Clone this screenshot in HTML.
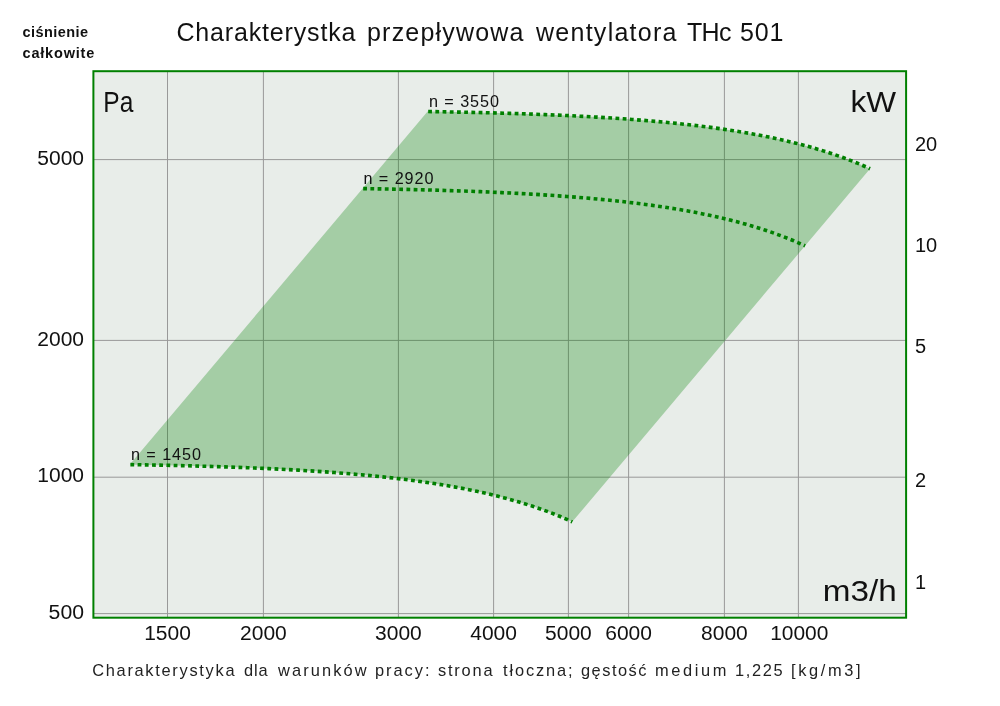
<!DOCTYPE html>
<html><head><meta charset="utf-8"><style>
html,body{margin:0;padding:0;background:#fff;width:1000px;height:706px;overflow:hidden}
svg{display:block;will-change:transform}
text{font-family:"Liberation Sans",sans-serif}
</style></head><body>
<svg width="1000" height="706" viewBox="0 0 1000 706" fill="#111">
<rect x="93.4" y="71.2" width="812.7" height="546.5" fill="#e8ede9"/>
<line x1="167.5" y1="71.2" x2="167.5" y2="617.7" stroke="#999999" stroke-width="1"/>
<line x1="263.4" y1="71.2" x2="263.4" y2="617.7" stroke="#999999" stroke-width="1"/>
<line x1="398.4" y1="71.2" x2="398.4" y2="617.7" stroke="#999999" stroke-width="1"/>
<line x1="493.6" y1="71.2" x2="493.6" y2="617.7" stroke="#999999" stroke-width="1"/>
<line x1="568.4" y1="71.2" x2="568.4" y2="617.7" stroke="#999999" stroke-width="1"/>
<line x1="628.6" y1="71.2" x2="628.6" y2="617.7" stroke="#999999" stroke-width="1"/>
<line x1="724.4" y1="71.2" x2="724.4" y2="617.7" stroke="#999999" stroke-width="1"/>
<line x1="798.4" y1="71.2" x2="798.4" y2="617.7" stroke="#999999" stroke-width="1"/>
<line x1="93.4" y1="159.6" x2="906.1" y2="159.6" stroke="#999999" stroke-width="1"/>
<line x1="93.4" y1="340.4" x2="906.1" y2="340.4" stroke="#999999" stroke-width="1"/>
<line x1="93.4" y1="477.2" x2="906.1" y2="477.2" stroke="#999999" stroke-width="1"/>
<line x1="93.4" y1="613.6" x2="906.1" y2="613.6" stroke="#999999" stroke-width="1"/>
<path d="M129.80,464.62 L427.55,111.54 L442.88,111.80 L457.53,112.08 L471.57,112.38 L485.04,112.70 L497.98,113.05 L510.44,113.41 L522.45,113.79 L534.04,114.20 L545.24,114.63 L556.07,115.07 L566.56,115.54 L576.73,116.04 L586.60,116.55 L596.19,117.08 L605.51,117.64 L614.57,118.22 L623.39,118.82 L631.98,119.45 L640.36,120.09 L648.53,120.76 L656.51,121.46 L664.30,122.18 L671.91,122.92 L679.35,123.68 L686.63,124.47 L693.75,125.29 L700.72,126.13 L707.55,126.99 L714.24,127.88 L720.80,128.80 L727.23,129.74 L733.55,130.71 L739.74,131.71 L745.82,132.73 L751.79,133.78 L757.66,134.86 L763.42,135.97 L769.08,137.11 L774.66,138.27 L780.13,139.47 L785.52,140.70 L790.83,141.96 L796.05,143.25 L801.19,144.57 L806.25,145.93 L811.24,147.31 L816.15,148.74 L820.99,150.20 L825.76,151.69 L830.47,153.22 L835.10,154.78 L839.68,156.39 L844.19,158.03 L848.64,159.71 L853.04,161.43 L857.37,163.20 L861.65,165.00 L865.88,166.85 L870.05,168.74 L572.30,521.83 L568.13,519.93 L563.90,518.09 L559.62,516.28 L555.29,514.52 L550.89,512.80 L546.44,511.11 L541.93,509.47 L537.35,507.87 L532.72,506.30 L528.01,504.77 L523.24,503.28 L518.40,501.82 L513.49,500.40 L508.50,499.01 L503.44,497.66 L498.30,496.33 L493.08,495.04 L487.77,493.78 L482.38,492.56 L476.90,491.36 L471.33,490.19 L465.67,489.06 L459.90,487.95 L454.04,486.87 L448.07,485.82 L441.99,484.79 L435.80,483.80 L429.48,482.83 L423.05,481.88 L416.49,480.97 L409.80,480.08 L402.97,479.21 L396.00,478.37 L388.88,477.56 L381.60,476.77 L374.16,476.00 L366.55,475.26 L358.76,474.54 L350.78,473.85 L342.61,473.18 L334.23,472.53 L325.64,471.91 L316.82,471.30 L307.76,470.73 L298.44,470.17 L288.85,469.63 L278.98,469.12 L268.81,468.63 L258.32,468.16 L247.49,467.71 L236.29,467.28 L224.70,466.88 L212.69,466.49 L200.23,466.13 L187.29,465.79 L173.82,465.47 L159.78,465.17 L145.13,464.88 L129.80,464.62 Z" fill="rgba(0,128,0,0.29)"/>
<path d="M129.80,464.62 L145.13,464.88 L159.78,465.17 L173.82,465.47 L187.29,465.79 L200.23,466.13 L212.69,466.49 L224.70,466.88 L236.29,467.28 L247.49,467.71 L258.32,468.16 L268.81,468.63 L278.98,469.12 L288.85,469.63 L298.44,470.17 L307.76,470.73 L316.82,471.30 L325.64,471.91 L334.23,472.53 L342.61,473.18 L350.78,473.85 L358.76,474.54 L366.55,475.26 L374.16,476.00 L381.60,476.77 L388.88,477.56 L396.00,478.37 L402.97,479.21 L409.80,480.08 L416.49,480.97 L423.05,481.88 L429.48,482.83 L435.80,483.80 L441.99,484.79 L448.07,485.82 L454.04,486.87 L459.90,487.95 L465.67,489.06 L471.33,490.19 L476.90,491.36 L482.38,492.56 L487.77,493.78 L493.08,495.04 L498.30,496.33 L503.44,497.66 L508.50,499.01 L513.49,500.40 L518.40,501.82 L523.24,503.28 L528.01,504.77 L532.72,506.30 L537.35,507.87 L541.93,509.47 L546.44,511.11 L550.89,512.80 L555.29,514.52 L559.62,516.28 L563.90,518.09 L568.13,519.93 L572.30,521.83" fill="none" stroke="#008000" stroke-width="3.6" stroke-dasharray="3.8 3.41" stroke-dashoffset="-0.6"/>
<path d="M362.58,188.58 L377.91,188.84 L392.57,189.12 L406.60,189.42 L420.07,189.74 L433.01,190.09 L445.47,190.45 L457.48,190.83 L469.07,191.24 L480.27,191.67 L491.10,192.11 L501.60,192.58 L511.77,193.07 L521.64,193.59 L531.22,194.12 L540.54,194.68 L549.60,195.26 L558.42,195.86 L567.02,196.49 L575.40,197.13 L583.57,197.80 L591.54,198.50 L599.33,199.22 L606.94,199.96 L614.38,200.72 L621.66,201.51 L628.78,202.33 L635.76,203.17 L642.58,204.03 L649.28,204.92 L655.84,205.84 L662.27,206.78 L668.58,207.75 L674.77,208.75 L680.85,209.77 L686.82,210.82 L692.69,211.90 L698.45,213.01 L704.12,214.15 L709.69,215.31 L715.17,216.51 L720.56,217.74 L725.86,219.00 L731.08,220.29 L736.22,221.61 L741.29,222.97 L746.27,224.35 L751.18,225.78 L756.02,227.23 L760.80,228.73 L765.50,230.26 L770.14,231.82 L774.71,233.43 L779.22,235.07 L783.68,236.75 L788.07,238.47 L792.41,240.24 L796.69,242.04 L800.91,243.89 L805.08,245.78" fill="none" stroke="#008000" stroke-width="3.6" stroke-dasharray="3.8 3.41" stroke-dashoffset="-0.6"/>
<path d="M427.55,111.54 L442.88,111.80 L457.53,112.08 L471.57,112.38 L485.04,112.70 L497.98,113.05 L510.44,113.41 L522.45,113.79 L534.04,114.20 L545.24,114.63 L556.07,115.07 L566.56,115.54 L576.73,116.04 L586.60,116.55 L596.19,117.08 L605.51,117.64 L614.57,118.22 L623.39,118.82 L631.98,119.45 L640.36,120.09 L648.53,120.76 L656.51,121.46 L664.30,122.18 L671.91,122.92 L679.35,123.68 L686.63,124.47 L693.75,125.29 L700.72,126.13 L707.55,126.99 L714.24,127.88 L720.80,128.80 L727.23,129.74 L733.55,130.71 L739.74,131.71 L745.82,132.73 L751.79,133.78 L757.66,134.86 L763.42,135.97 L769.08,137.11 L774.66,138.27 L780.13,139.47 L785.52,140.70 L790.83,141.96 L796.05,143.25 L801.19,144.57 L806.25,145.93 L811.24,147.31 L816.15,148.74 L820.99,150.20 L825.76,151.69 L830.47,153.22 L835.10,154.78 L839.68,156.39 L844.19,158.03 L848.64,159.71 L853.04,161.43 L857.37,163.20 L861.65,165.00 L865.88,166.85 L870.05,168.74" fill="none" stroke="#008000" stroke-width="3.6" stroke-dasharray="3.8 3.41" stroke-dashoffset="-0.6"/>
<rect x="93.4" y="71.2" width="812.7" height="546.5" fill="none" stroke="#008000" stroke-width="2"/>
<text x="176.40" y="41" font-size="25" textLength="179.10" lengthAdjust="spacing">Charakterystka</text>
<text x="367.00" y="41" font-size="25" textLength="156.50" lengthAdjust="spacing">przepływowa</text>
<text x="536.00" y="41" font-size="25" textLength="140.50" lengthAdjust="spacing">wentylatora</text>
<text x="687.00" y="41" font-size="25" textLength="44.50" lengthAdjust="spacing">THc</text>
<text x="740.00" y="41" font-size="25" textLength="43.50" lengthAdjust="spacing">501</text>
<text x="22.5" y="37" font-size="14.5" textLength="65.5" lengthAdjust="spacing" font-weight="bold">ciśnienie</text>
<text x="22.5" y="57.5" font-size="14.5" textLength="71.8" lengthAdjust="spacing" font-weight="bold">całkowite</text>
<text x="103.3" y="111.75" font-size="30" textLength="30" lengthAdjust="spacingAndGlyphs">Pa</text>
<text x="850.5" y="111.9" font-size="30" textLength="45.6" lengthAdjust="spacingAndGlyphs">kW</text>
<text x="822.8" y="600.9" font-size="30" textLength="74" lengthAdjust="spacingAndGlyphs">m3/h</text>
<text x="84" y="164.8" font-size="20" textLength="46.7" lengthAdjust="spacingAndGlyphs" text-anchor="end">5000</text>
<text x="84" y="345.8" font-size="20" textLength="46.7" lengthAdjust="spacingAndGlyphs" text-anchor="end">2000</text>
<text x="84" y="482.2" font-size="20" textLength="46.7" lengthAdjust="spacingAndGlyphs" text-anchor="end">1000</text>
<text x="84" y="619" font-size="20" textLength="35.4" lengthAdjust="spacingAndGlyphs" text-anchor="end">500</text>
<text x="167.5" y="639.8" font-size="20" textLength="46.7" lengthAdjust="spacingAndGlyphs" text-anchor="middle">1500</text>
<text x="263.4" y="639.8" font-size="20" textLength="46.7" lengthAdjust="spacingAndGlyphs" text-anchor="middle">2000</text>
<text x="398.4" y="639.8" font-size="20" textLength="46.7" lengthAdjust="spacingAndGlyphs" text-anchor="middle">3000</text>
<text x="493.6" y="639.8" font-size="20" textLength="46.7" lengthAdjust="spacingAndGlyphs" text-anchor="middle">4000</text>
<text x="568.4" y="639.8" font-size="20" textLength="46.7" lengthAdjust="spacingAndGlyphs" text-anchor="middle">5000</text>
<text x="628.6" y="639.8" font-size="20" textLength="46.7" lengthAdjust="spacingAndGlyphs" text-anchor="middle">6000</text>
<text x="724.4" y="639.8" font-size="20" textLength="46.7" lengthAdjust="spacingAndGlyphs" text-anchor="middle">8000</text>
<text x="799.3" y="639.8" font-size="20" textLength="58.2" lengthAdjust="spacingAndGlyphs" text-anchor="middle">10000</text>
<text x="915" y="150.5" font-size="20">20</text>
<text x="915" y="252.25" font-size="20">10</text>
<text x="915" y="353.25" font-size="20">5</text>
<text x="915" y="487.25" font-size="20">2</text>
<text x="915" y="588.5" font-size="20">1</text>
<text x="131" y="460.3" font-size="16.2" textLength="70" lengthAdjust="spacing">n = 1450</text>
<text x="363.5" y="184.3" font-size="16.2" textLength="70" lengthAdjust="spacing">n = 2920</text>
<text x="429" y="107.2" font-size="16.2" textLength="70" lengthAdjust="spacing">n = 3550</text>
<text x="92.20" y="675.5" font-size="16.4" textLength="142.30" lengthAdjust="spacing" fill="#222222">Charakterystyka</text>
<text x="244.00" y="675.5" font-size="16.4" textLength="23.50" lengthAdjust="spacing" fill="#222222">dla</text>
<text x="278.00" y="675.5" font-size="16.4" textLength="88.50" lengthAdjust="spacing" fill="#222222">warunków</text>
<text x="375.00" y="675.5" font-size="16.4" textLength="54.50" lengthAdjust="spacing" fill="#222222">pracy:</text>
<text x="438.00" y="675.5" font-size="16.4" textLength="54.50" lengthAdjust="spacing" fill="#222222">strona</text>
<text x="503.00" y="675.5" font-size="16.4" textLength="69.50" lengthAdjust="spacing" fill="#222222">tłoczna;</text>
<text x="581.00" y="675.5" font-size="16.4" textLength="65.50" lengthAdjust="spacing" fill="#222222">gęstość</text>
<text x="655.00" y="675.5" font-size="16.4" textLength="71.50" lengthAdjust="spacing" fill="#222222">medium</text>
<text x="735.00" y="675.5" font-size="16.4" textLength="47.50" lengthAdjust="spacing" fill="#222222">1,225</text>
<text x="791.00" y="675.5" font-size="16.4" textLength="69.50" lengthAdjust="spacing" fill="#222222">[kg/m3]</text>
</svg>
</body></html>
